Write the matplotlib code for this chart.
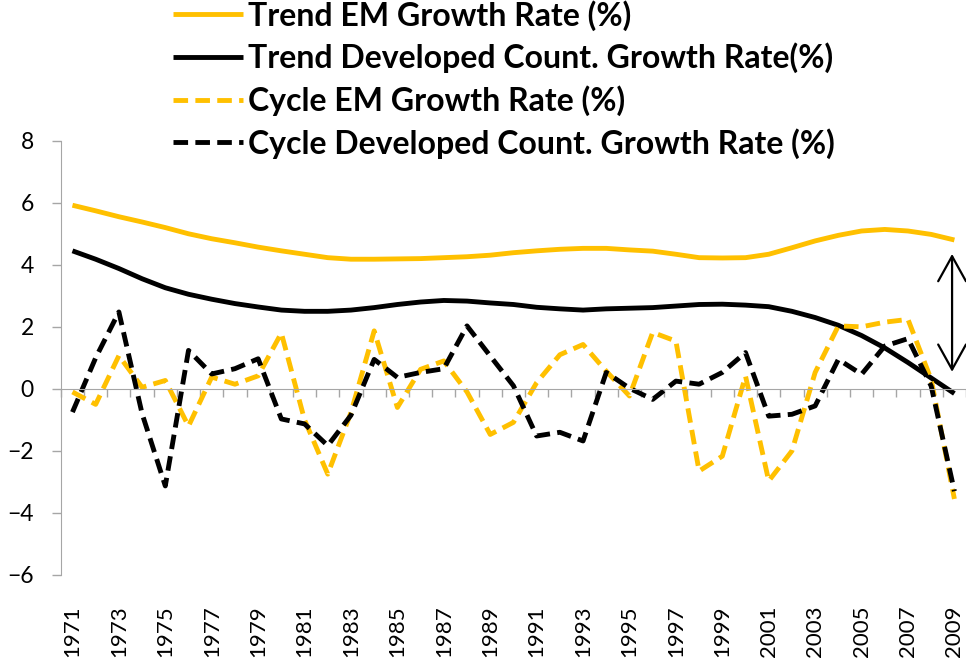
import matplotlib
matplotlib.use("Agg")
import matplotlib.pyplot as plt

years = list(range(1971, 2010))
year_labels = [str(y) for y in years[::2]]

trend_em = [5.92, 5.74, 5.55, 5.38, 5.20, 5.00, 4.84, 4.71, 4.57, 4.45,
            4.34, 4.23, 4.18, 4.18, 4.19, 4.20, 4.23, 4.26, 4.31, 4.39,
            4.45, 4.50, 4.53, 4.53, 4.48, 4.44, 4.34, 4.23, 4.22, 4.23,
            4.34, 4.55, 4.77, 4.95, 5.09, 5.14, 5.09, 4.98, 4.80]
trend_dev = [4.45, 4.18, 3.88, 3.55, 3.26, 3.05, 2.89, 2.75, 2.64, 2.54,
             2.50, 2.50, 2.54, 2.62, 2.72, 2.80, 2.85, 2.83, 2.77, 2.72,
             2.63, 2.58, 2.54, 2.58, 2.60, 2.62, 2.67, 2.72, 2.73, 2.70,
             2.65, 2.50, 2.30, 2.05, 1.72, 1.32, 0.85, 0.35, -0.15]
cycle_em = [-0.10, -0.50, 1.07, 0.05, 0.27, -1.20, 0.38, 0.15, 0.42, 1.80,
            -1.00, -2.75, -0.76, 1.87, -0.60, 0.63, 0.90, -0.10, -1.47, -1.08,
            0.20, 1.10, 1.43, 0.57, -0.23, 1.82, 1.54, -2.65, -2.17, 0.41,
            -2.97, -2.00, 0.53, 2.03, 2.00, 2.15, 2.24, 0.30, -3.55]
cycle_dev = [-0.75, 1.00, 2.48, -0.80, -3.13, 1.24, 0.48, 0.65, 0.97, -0.97,
             -1.13, -1.83, -0.85, 0.95, 0.37, 0.53, 0.65, 2.03, 1.06, 0.10,
             -1.52, -1.40, -1.68, 0.53, 0.02, -0.34, 0.25, 0.15, 0.53, 1.17,
             -0.88, -0.82, -0.55, 0.95, 0.47, 1.38, 1.62, 0.09, -3.30]

labels = [
    "Trend EM Growth Rate (%)",
    "Trend Developed Count. Growth Rate(%)",
    "Cycle EM Growth Rate (%)",
    "Cycle Developed Count. Growth Rate (%)",
]

GOLD = "#FFC000"
GRAY = "#A6A6A6"

plt.rcParams["font.family"] = ["Lato", "DejaVu Sans"]

fig = plt.figure(figsize=(9.66, 6.67), dpi=100)
ax = fig.add_axes([0.063, 0.138, 0.937, 0.651])

lw = 3.5
dash = (3.0, 1.5)
ax.plot(years, trend_em, color=GOLD, lw=lw, label=labels[0], solid_capstyle="butt")
ax.plot(years, trend_dev, color="black", lw=lw, label=labels[1], solid_capstyle="butt")
ax.plot(years, cycle_em, color=GOLD, lw=lw, dashes=dash, label=labels[2])
ax.plot(years, cycle_dev, color="black", lw=lw, dashes=dash, label=labels[3])

ax.set_ylim(-6, 8)
ax.set_xlim(1970.5, 2009.4)
ax.set_yticks(range(-6, 9, 2))
ax.tick_params(axis="y", direction="out", length=6.5, width=1, color=GRAY,
               labelsize=16.5, pad=13)

# category axis crosses at zero, tick marks between categories
ax.spines["bottom"].set_position(("data", 0))
ax.spines["bottom"].set_color(GRAY)
ax.spines["left"].set_color(GRAY)
ax.spines["top"].set_visible(False)
ax.spines["right"].set_visible(False)
ax.set_xticks([y - 0.5 for y in years] + [years[-1] + 0.5])
ax.tick_params(axis="x", direction="out", length=6, width=1, color=GRAY,
               labelbottom=False)

# year labels sit at the bottom of the plot area
sec = ax.secondary_xaxis("bottom")
sec.set_xticks(years[::2], year_labels)
sec.spines["bottom"].set_visible(False)
sec.tick_params(length=0, labelsize=16, labelrotation=90, pad=22)

ax.annotate("", xy=(2008.9, 4.35), xytext=(2008.9, 0.55),
            arrowprops=dict(arrowstyle="<->, head_length=0.9, head_width=0.5",
                            color="black", lw=1.6, mutation_scale=20,
                            shrinkA=0, shrinkB=0))

leg = fig.legend(loc="upper left", bbox_to_anchor=(0.179, 1.0), frameon=False,
                 prop={"weight": "bold", "size": 23}, handlelength=2.2,
                 handletextpad=0.15, labelspacing=0.37, borderaxespad=0,
                 borderpad=0)

fig.savefig("out.png", dpi=100)
